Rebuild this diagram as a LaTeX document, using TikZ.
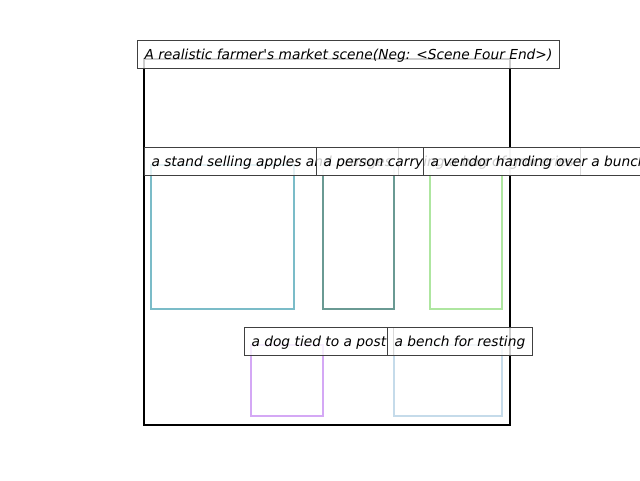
\documentclass[tikz,border=0pt]{standalone}
\usepackage{fontspec}
\setmainfont{DejaVu Sans}
\begin{document}
\begin{tikzpicture}[x=0.75pt,y=-0.75pt,
  lbl/.style={draw=black!75, line width=0.75pt, fill=white, fill opacity=0.8, text opacity=1,
    anchor=west, inner xsep=5.25pt, inner ysep=0pt, minimum height=21pt,
    text height=10pt, text depth=2.2pt, font=\fontsize{10.33}{12}\selectfont\itshape},
  obj/.style={line width=1.5pt}]
\definecolor{cA}{HTML}{7BBCC8}
\definecolor{cB}{HTML}{6A9A93}
\definecolor{cC}{HTML}{AEE6A0}
\definecolor{cD}{HTML}{D4A8F5}
\definecolor{cE}{HTML}{C5DBEA}
\useasboundingbox (0,0) rectangle (640,480);
\clip (0,0) rectangle (640,480);
\draw[line width=1.5pt] (144,59) rectangle (510,425);
\draw[obj,cA] (151,165) rectangle (294,309);
\draw[obj,cB] (323,165) rectangle (394,309);
\draw[obj,cC] (430,165) rectangle (502,309);
\draw[obj,cD] (251,345) rectangle (323,416);
\draw[obj,cE] (394,345) rectangle (502,416);
\node[lbl] (t) at (137,54) {A realistic farmer\textquotesingle s market scene(Neg: <Scene Four End>)};
\node[lbl] (l1) at (144,161) {a stand selling apples and oranges};
\node[lbl] (l2) at (316,161) {a person carrying a bag of groceries};
\node[lbl] (l3) at (423,161) {a vendor handing over a bunch of carrots};
\node[lbl] (l4) at (244,341) {a dog tied to a post};
\node[lbl] (l5) at (387,341) {a bench for resting};
\end{tikzpicture}
\end{document}
